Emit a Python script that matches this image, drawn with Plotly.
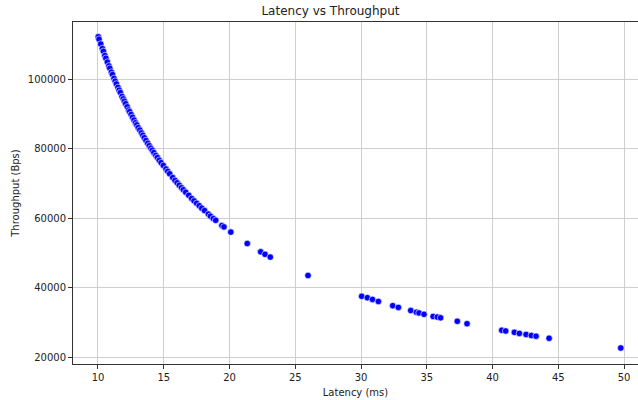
import plotly.graph_objects as go

latency_ms = [
    10.02, 10.08, 10.21, 10.33, 10.41, 10.52, 10.60, 10.71, 10.83, 10.90,
    11.02, 11.10, 11.22, 11.31, 11.40, 11.52, 11.61, 11.70, 11.83, 11.92,
    12.01, 12.10, 12.22, 12.33, 12.41, 12.52, 12.63, 12.74, 12.85, 12.95,
    13.06, 13.18, 13.30, 13.41, 13.52, 13.65, 13.78, 13.90, 14.02, 14.13,
    14.25, 14.40, 14.52, 14.66, 14.80, 14.97, 15.17, 15.30, 15.45, 15.68,
    15.86, 16.02, 16.18, 16.35, 16.49, 16.67, 16.90, 17.12, 17.30, 17.50,
    17.70, 17.89, 18.10, 18.39, 18.55, 18.77, 18.95, 19.42, 19.58, 20.10,
    21.35, 22.37, 22.70, 23.10, 25.97,
    30.05, 30.48, 30.87, 31.32, 32.41, 32.84, 33.78, 34.21, 34.41, 34.79,
    35.48, 35.80, 36.05, 37.32, 38.06,
    40.70, 41.00, 41.66, 42.04, 42.55, 42.95, 43.31, 44.30, 49.75,
]

throughput_bps = [
    112300, 111600, 110200, 108900, 108100, 106900, 106100, 105000, 103900, 103200,
    102100, 101400, 100300, 99500, 98700, 97700, 96900, 96200, 95100, 94400,
    93700, 93000, 92100, 91200, 90700, 89900, 89100, 88300, 87500, 86900,
    86100, 85400, 84600, 83900, 83200, 82400, 81600, 80900, 80200, 79600,
    78900, 78100, 77500, 76700, 76000, 75200, 74200, 73500, 72800, 71700,
    70900, 70200, 69500, 68800, 68200, 67500, 66600, 65700, 65000, 64300,
    63600, 62900, 62200, 61200, 60600, 59900, 59400, 57900, 57500, 56000,
    52700, 50300, 49600, 48800, 43500,
    37500, 37100, 36600, 36000, 34800, 34300, 33400, 32900, 32700, 32300,
    31700, 31500, 31300, 30300, 29600,
    27700, 27500, 27100, 26800, 26500, 26200, 26000, 25400, 22600,
]

x_ticks = [10, 15, 20, 25, 30, 35, 40, 45, 50]
y_ticks = [20000, 40000, 60000, 80000, 100000]

fig = go.Figure()
fig.add_trace(go.Scatter(
    x=latency_ms, y=throughput_bps, mode="markers",
    marker=dict(color="#0000ff", size=6.5, line=dict(color="white", width=0.6)),
    showlegend=False,
))

font = "DejaVu Sans, sans-serif"
fig.update_layout(
    width=638, height=400,
    margin=dict(l=73, r=0, t=22, b=36),
    plot_bgcolor="white", paper_bgcolor="white",
    font=dict(family=font, size=10, color="#222222"),
    title=dict(text="Latency vs Throughput", x=0.518, xanchor="center",
               y=0.972, yanchor="middle", font=dict(size=12, color="#222222")),
)
fig.update_xaxes(
    range=[8.1, 51.06], tickvals=x_ticks, ticktext=[str(v) for v in x_ticks],
    showgrid=True, gridcolor="#cfcfcf", gridwidth=1,
    showline=True, linecolor="#333333", linewidth=1, mirror=True,
    ticks="outside", ticklen=4, tickcolor="#333333", zeroline=False,
    title=dict(text="Latency (ms)", standoff=6, font=dict(size=10)),
)
fig.update_yaxes(
    range=[17985, 116550], tickvals=y_ticks, ticktext=[str(v) for v in y_ticks],
    showgrid=True, gridcolor="#cfcfcf", gridwidth=1,
    showline=True, linecolor="#333333", linewidth=1, mirror=False,
    ticks="outside", ticklen=4, tickcolor="#333333", zeroline=False,
    title=dict(text="Throughput (Bps)", standoff=6, font=dict(size=10)),
)

fig.write_html(
    "out.html",
    config={"displayModeBar": False},
    post_script="document.body.style.margin='0';document.body.style.overflow='hidden';",
)
